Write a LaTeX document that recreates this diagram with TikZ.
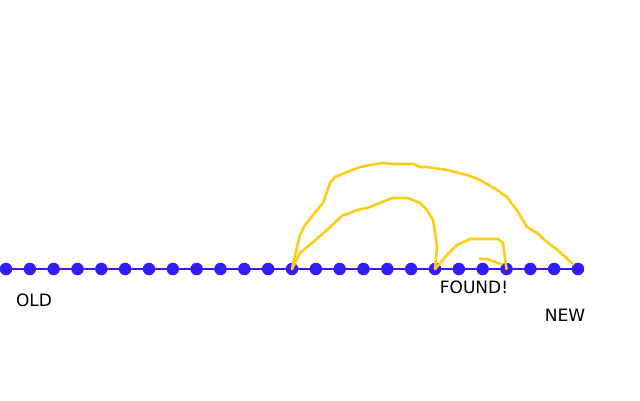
\documentclass[tikz,border=0pt]{standalone}
\usepackage{fontspec}
\setmainfont{DejaVu Sans}
\usepackage{tikz}
\usetikzlibrary{positioning}

\definecolor{chainblue}{RGB}{52,28,255}
\definecolor{jumpgold}{RGB}{255,204,20}

\begin{document}
\begin{tikzpicture}[
  x=1pt, y=-1pt,
  dot/.style={circle, fill=chainblue, inner sep=0pt, minimum size=12.5pt},
  jump/.style={jumpgold, line width=2.6pt, line join=round, line cap=round},
  tag/.style={font=\fontsize{17}{20}\selectfont, inner sep=0pt},
]
\useasboundingbox (0,0) rectangle (640,400);

% Commits
\foreach \i in {0,...,24} {
  \node[dot] (d\i) at ({6+\i*23.833}, 269) {};
}
\draw[chainblue, line width=2pt] (d0.center) -- (d24.center);

% Labels
\node[tag] (old) at (34, 300) {OLD};
\node[tag] (found) at (474, 287) {FOUND!};
\node[tag] (new) at (565, 315) {NEW};

% Bisection jumps (drawn by hand)
\draw[jump] (d12.center)
  -- (297,247) -- (300,235) -- (305,225) -- (313,215) -- (323,203)
  -- (330,183) -- (335,177) -- (347,172) -- (360,167) -- (370,165)
  -- (383,163) -- (393,164) -- (413,164) -- (420,167) -- (427,167)
  -- (447,170) -- (467,175) -- (480,180) -- (497,190) -- (507,197)
  -- (513,205) -- (518,212) -- (527,227) -- (537,233) -- (547,242)
  -- (560,252) -- (d24.north west);
\draw[jump] (d12.center)
  -- (300,253) -- (313,242) -- (327,230) -- (343,215) -- (350,213)
  -- (357,210) -- (367,208) -- (380,203) -- (392,198) -- (408,198)
  -- (420,203) -- (427,210) -- (433,220) -- (435,232) -- (437,247)
  -- (d18.center);
\draw[jump] (d18.center)
  -- (447,255) -- (457,245) -- (470,239) -- (498,239) -- (503,243)
  -- (d21.center);
\draw[jump] (480,259) -- (487,259) -- (d21.north west);
\end{tikzpicture}
\end{document}
